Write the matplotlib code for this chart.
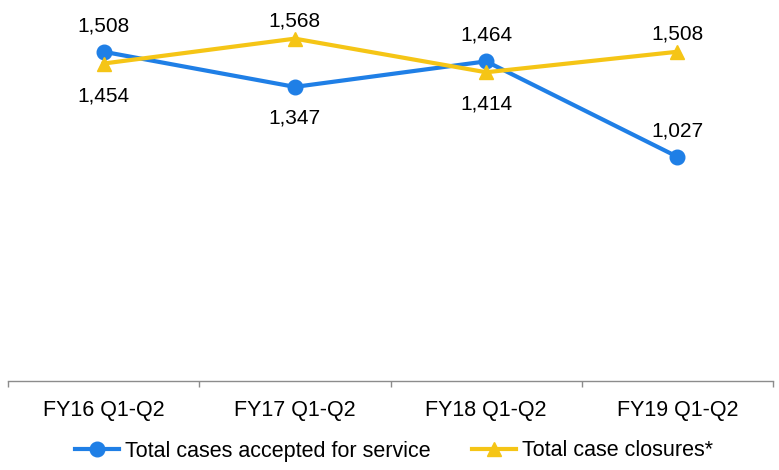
import numpy as np
import matplotlib
matplotlib.use('Agg')
import matplotlib.pyplot as plt

# ---------- Data ------------------------------------------------------------------------------------------------------

categories = ['FY16 Q1-Q2', 'FY17 Q1-Q2', 'FY18 Q1-Q2', 'FY19 Q1-Q2']
accepted = [1508, 1347, 1464, 1027]           # Total cases accepted for service
closures = [1454, 1568, 1414, 1508]           # Total case closures*
accepted_pos = ['above', 'below', 'above', 'above']
closures_pos = ['below', 'above', 'below', 'above']

blue = '#1F7FE6'
yellow = '#F5C516'

plt.rcParams['font.family'] = ['Liberation Sans', 'DejaVu Sans']

# ---------- Figure ----------------------------------------------------------------------------------------------------

fig = plt.figure(figsize=(7.79, 4.70), dpi=100)
ax = fig.add_axes([8 / 779, 1 - 381 / 470, 765 / 779, 381 / 470])

x = np.arange(len(categories))

ax.plot(x, accepted, color=blue, lw=3, marker='o', markersize=10.5,
        label='Total cases accepted for service', zorder=3)
ax.plot(x, closures, color=yellow, lw=3, marker='^', markersize=10,
        label='Total case closures*', zorder=4)


def put_labels(values, positions, up, down):
    for xi, v, p in zip(x, values, positions):
        dy = up if p == 'above' else -down
        ax.annotate(f'{v:,}', (xi, v), xytext=(0, dy), textcoords='offset pixels',
                    ha='center', va='center', fontsize=15, color='#000000')


put_labels(accepted, accepted_pos, 26, 31)
put_labels(closures, closures_pos, 18, 32)

ax.set_xlim(-0.5, len(categories) - 0.5)
ax.set_ylim(0, 1745)

# category axis: boundary tick marks, labels centred in the bins
ax.set_xticks(x)
ax.set_xticklabels(categories, fontsize=15.5)
ax.set_xticks(np.arange(-0.5, len(categories)), minor=True)
ax.tick_params(axis='x', which='major', length=0, pad=14)
ax.tick_params(axis='x', which='minor', length=4.5, width=1, color='#8C8C8C', direction='out')
ax.set_yticks([])

for side in ['top', 'right', 'left']:
    ax.spines[side].set_visible(False)
ax.spines['bottom'].set_color('#8C8C8C')
ax.spines['bottom'].set_linewidth(1)

fig.legend(loc='center', bbox_to_anchor=(394 / 779, 1 - 451 / 470), ncol=2, frameon=False,
           fontsize=15.5, handlelength=2.05, handletextpad=0.25, columnspacing=1.95,
           borderpad=0, borderaxespad=0)

fig.savefig('out.png', dpi=100)
